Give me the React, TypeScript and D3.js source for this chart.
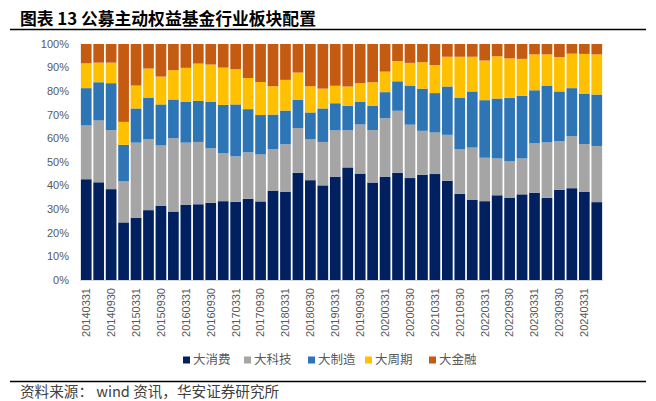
import React from "react";
import * as d3 from "d3";

const dates = [
  "20140331","20140630","20140930","20141231",
  "20150331","20150630","20150930","20151231",
  "20160331","20160630","20160930","20161231",
  "20170331","20170630","20170930","20171231",
  "20180331","20180630","20180930","20181231",
  "20190331","20190630","20190930","20191231",
  "20200331","20200630","20200930","20201231",
  "20210331","20210630","20210930","20211231",
  "20220331","20220630","20220930","20221231",
  "20230331","20230630","20230930","20231231",
  "20240331","20240630",
];

const seriesNames = ["大消费", "大科技", "大制造", "大周期", "大金融"];
const seriesColors = ["#002060", "#A5A5A5", "#2E75B6", "#FFC000", "#C55A11"];

const consumption = [42.7,41.4,38.5,24.4,26.3,29.6,31.5,29.0,31.8,32.1,32.7,33.4,33.1,34.4,33.3,37.9,37.3,45.4,42.3,40.1,43.8,47.7,45.1,41.3,43.8,45.4,43.2,44.6,44.9,42.0,36.5,33.9,33.4,35.9,34.9,36.3,37.0,34.8,38.2,38.9,37.3,33.0];
const technology = [22.8,26.2,25.0,17.4,31.9,30.0,25.5,31.1,26.4,26.4,23.1,20.3,19.3,19.7,19.9,17.5,20.2,19.0,17.3,18.4,19.6,15.7,20.8,22.2,24.8,26.3,22.6,18.6,17.6,19.5,19.0,22.2,18.4,15.6,15.5,15.2,20.9,23.5,20.7,22.1,20.3,23.8];
const manufacturing = [15.8,16.2,19.9,15.5,14.5,17.7,17.4,16.4,17.4,17.4,19.8,20.5,22.0,18.3,16.7,14.7,14.3,11.9,11.4,14.2,11.5,10.4,9.7,10.4,11.0,12.5,16.6,17.9,16.7,20.5,21.8,23.8,24.4,25.4,26.8,26.5,22.5,24.1,21.0,20.3,21.4,21.8];
const cyclical = [10.5,8.3,8.7,9.7,9.7,12.3,11.8,12.4,14.3,15.8,15.7,15.8,14.9,13.2,14.0,12.0,13.0,11.6,11.1,8.4,7.4,8.2,7.8,9.9,8.7,8.6,9.6,11.2,11.9,12.6,17.3,14.7,16.8,17.9,16.7,15.7,15.2,13.2,14.6,14.6,16.8,17.0];
const finance = [8.2,7.9,7.9,33.0,17.6,10.4,13.8,11.1,10.1,8.3,8.7,10.0,10.7,14.4,16.1,17.9,15.2,12.1,17.9,18.9,17.7,18.0,16.6,16.2,11.7,7.2,8.0,7.7,8.9,5.4,5.4,5.4,7.0,5.2,6.1,6.3,4.4,4.4,5.5,4.1,4.2,4.4];

const yTicks = [0, 10, 20, 30, 40, 50, 60, 70, 80, 90, 100];

const W = 656;
const H = 401;
const plot = { left: 80, right: 603, top: 44, bottom: 280 };

export default function App() {
  const seriesData = [consumption, technology, manufacturing, cyclical, finance];
  const rows = dates.map((d, i) => {
    const r: any = { date: d };
    seriesNames.forEach((n, k) => (r[n] = seriesData[k][i]));
    return r;
  });
  const stack = d3.stack<any>().keys(seriesNames).offset(d3.stackOffsetExpand);
  const layers = stack(rows);

  const x = d3
    .scaleBand<string>()
    .domain(dates)
    .range([plot.left, plot.right])
    .paddingInner(0.14)
    .paddingOuter(0.07);
  const y = d3.scaleLinear().domain([0, 1]).range([plot.bottom, plot.top]);

  const labelFont = "'Liberation Sans', Arial, sans-serif";
  const cjkFont = "'Noto Sans CJK SC', 'Noto Sans', sans-serif";

  const legendX = [183, 244, 308, 365, 429];

  return (
    <svg
      width={W}
      height={H}
      style={{ position: "absolute", left: 0, top: 0, background: "#fff" }}
    >
      <rect x={0} y={0} width={W} height={H} fill="#fff" />
      {/* title */}
      <text
        x={20}
        y={25}
        fontFamily={cjkFont}
        fontWeight={700}
        fontSize={16.8}
        fill="#000"
      >
        图表 13 公募主动权益基金行业板块配置
      </text>
      <line x1={10} x2={646} y1={29.5} y2={29.5} stroke="#000" strokeWidth={1.5} />

      {/* bars */}
      {layers.map((layer, k) => (
        <g key={layer.key} fill={seriesColors[k]}>
          {layer.map((seg, i) => (
            <rect
              key={i}
              x={x(dates[i])}
              width={x.bandwidth()}
              y={y(seg[1])}
              height={Math.max(0, y(seg[0]) - y(seg[1]))}
            />
          ))}
        </g>
      ))}

      {/* x axis line */}
      <line
        x1={plot.left}
        x2={plot.right}
        y1={plot.bottom + 0.5}
        y2={plot.bottom + 0.5}
        stroke="#D9D9D9"
        strokeWidth={1}
      />

      {/* y labels */}
      {yTicks.map((t) => (
        <text
          key={t}
          x={69}
          y={y(t / 100)}
          dy="0.35em"
          textAnchor="end"
          fontFamily={labelFont}
          fontSize={11}
          fill="#595959"
        >
          {t}%
        </text>
      ))}

      {/* x labels */}
      {dates.map((d, i) =>
        i % 2 === 0 ? (
          <text
            key={d}
            transform={`translate(${(x(d) as number) + x.bandwidth() / 2},${288}) rotate(-90)`}
            textAnchor="end"
            dy="0.35em"
            fontFamily={labelFont}
            fontSize={11}
            fill="#595959"
          >
            {d}
          </text>
        ) : null
      )}

      {/* legend */}
      {seriesNames.map((n, k) => (
        <g key={n} transform={`translate(${legendX[k]},360)`}>
          <rect x={0} y={-3.5} width={7} height={7} fill={seriesColors[k]} />
          <text
            x={10}
            y={0}
            dy="0.35em"
            fontFamily={cjkFont}
            fontSize={12.5}
            fill="#595959"
          >
            {n}
          </text>
        </g>
      ))}

      {/* footer */}
      <line x1={10} x2={646} y1={381.5} y2={381.5} stroke="#000" strokeWidth={1.5} />
      <text
        x={20}
        y={397}
        fontFamily={cjkFont}
        fontSize={14.6}
        fill="#404040"
      >
        资料来源： wind 资讯，华安证券研究所
      </text>
    </svg>
  );
}
